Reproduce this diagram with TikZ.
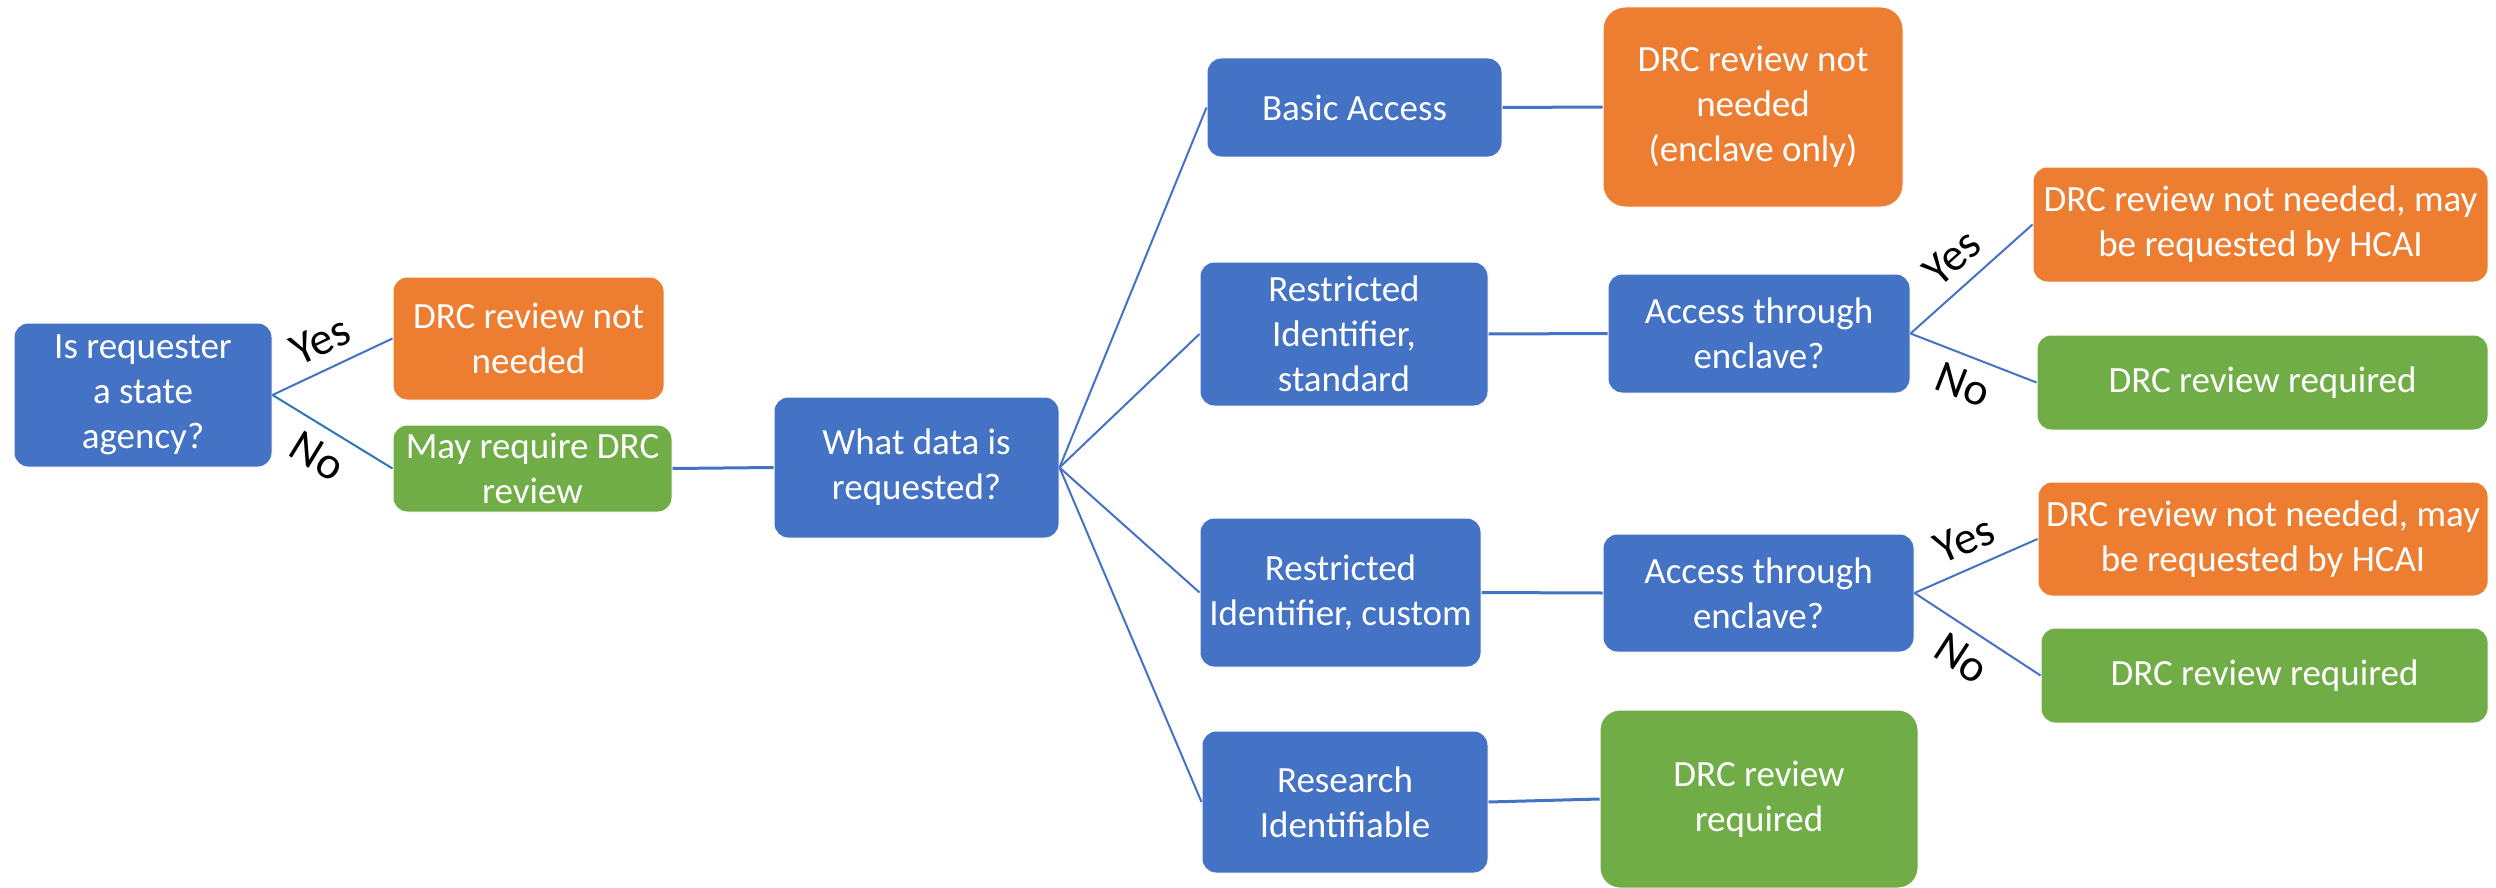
\documentclass[tikz,border=0pt]{standalone}
\usepackage{fontspec}
\setmainfont{Carlito}
\definecolor{cblue}{HTML}{4472C4}
\definecolor{corange}{HTML}{ED7D31}
\definecolor{cgreen}{HTML}{70AD47}
\definecolor{cline}{HTML}{4472C4}
\definecolor{cline2}{HTML}{2E75B6}
\begin{document}
\begin{tikzpicture}[x=1pt,y=-1pt,
  box/.style={rounded corners=14pt, draw=white, line width=1pt, text=white, align=center, inner sep=0pt, font=\fontsize{37}{45}\selectfont},
  bluebox/.style={box, fill=cblue},
  orangebox/.style={box, fill=corange},
  greenbox/.style={box, fill=cgreen},
  conn/.style={draw=cline, line width=2pt},
  hconn/.style={draw=cline, line width=3pt},
  lbl/.style={font=\fontsize{46}{54}\selectfont, text=black, sloped, inner sep=13pt}
]
\useasboundingbox (0,0) rectangle (2496,888);
% nodes
\node[bluebox, minimum width=258pt, minimum height=144pt] (A) at (143,395) {Is requester\\a state\\agency?};
\node[orangebox, minimum width=271pt, minimum height=123pt] (B) at (528.5,338.5) {DRC review not\\needed};
\node[greenbox, minimum width=279pt, minimum height=87pt] (C) at (532.5,468.5) {May require DRC\\review};
\node[bluebox, minimum width=285pt, minimum height=141pt] (D) at (916.5,467.5) {What data is\\requested?};
\node[bluebox, minimum width=295pt, minimum height=99pt] (E) at (1354.5,107.5) {Basic Access};
\node[orangebox, rounded corners=22pt, minimum width=300pt, minimum height=200pt] (F) at (1753,107) {DRC review not\\needed\\(enclave only)};
\node[bluebox, minimum width=288pt, minimum height=144pt] (G) at (1344,334) {Restricted\\Identifier,\\standard};
\node[bluebox, minimum width=302pt, minimum height=119pt] (H) at (1759,333.5) {Access through\\enclave?};
\node[orangebox, minimum width=455pt, minimum height=115pt] (I) at (2260.5,224.5) {DRC review not needed, may\\be requested by HCAI};
\node[greenbox, minimum width=451pt, minimum height=95pt] (J) at (2262.5,382.5) {DRC review required};
\node[bluebox, minimum width=281pt, minimum height=149pt] (K) at (1340.5,592.5) {Restricted\\Identifier, custom};
\node[bluebox, minimum width=311pt, minimum height=118pt] (L) at (1758.5,593) {Access through\\enclave?};
\node[orangebox, minimum width=450pt, minimum height=114pt] (M) at (2263,539) {DRC review not needed, may\\be requested by HCAI};
\node[greenbox, minimum width=447pt, minimum height=95pt] (N) at (2264.5,675.5) {DRC review required};
\node[bluebox, minimum width=286pt, minimum height=142pt] (O) at (1345,802) {Research\\Identifiable};
\node[greenbox, rounded corners=20pt, minimum width=318pt, minimum height=178pt] (P) at (1759,799) {DRC review\\required};
% connectors
\draw[conn] (A.east) -- node[lbl, above] {Yes} (B.west);
\draw[conn, draw=cline2] (A.east) -- node[lbl, below] {No} (C.west);
\draw[hconn] (C.east) -- (D.west);
\draw[conn] (D.east) -- (E.west);
\draw[conn] (D.east) -- (G.west);
\draw[conn] (D.east) -- (K.west);
\draw[conn] (D.east) -- (O.west);
\draw[hconn] (E.east) -- (F.west);
\draw[hconn] (G.east) -- (H.west);
\draw[hconn] (K.east) -- (L.west);
\draw[hconn] (O.east) -- (P.west);
\draw[conn] (H.east) -- node[lbl, above] {Yes} (I.west);
\draw[conn] (H.east) -- node[lbl, below] {No} (J.west);
\draw[conn] (L.east) -- node[lbl, above] {Yes} (M.west);
\draw[conn] (L.east) -- node[lbl, below] {No} (N.west);
\end{tikzpicture}
\end{document}
